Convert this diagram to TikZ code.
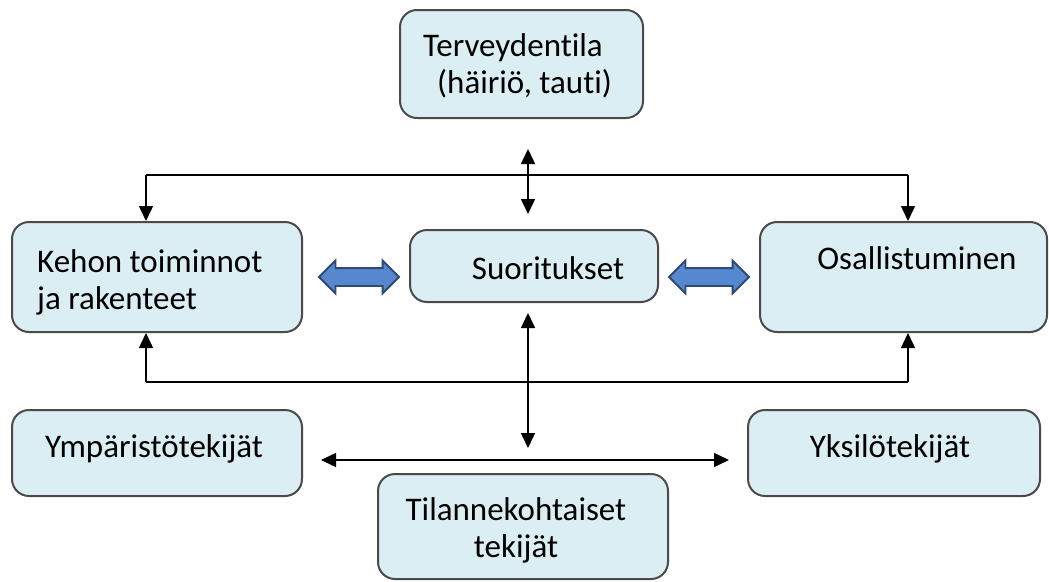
\documentclass[tikz,border=0pt]{standalone}
\usepackage{fontspec}
\setmainfont{Carlito}[Ligatures=NoCommon]
\usetikzlibrary{arrows.meta,shapes.arrows}

\definecolor{boxfill}{HTML}{DBEEF4}
\definecolor{boxline}{HTML}{4A4A4A}
\definecolor{bluearr}{HTML}{5588CF}
\definecolor{bluearrline}{HTML}{2E4A73}

\tikzset{
  icfbox/.style={draw=boxline, fill=boxfill, line width=2pt, rounded corners=17pt, inner sep=0pt},
  icftext/.style={font=\fontsize{33}{37}\selectfont, inner sep=0pt, align=left},
  conn/.style={line width=1.5pt, -{Triangle[length=15pt,width=14pt]}},
  dconn/.style={line width=1.5pt, {Triangle[length=15pt,width=14pt]}-{Triangle[length=15pt,width=14pt]}},
  bigarrow/.style={double arrow, draw=bluearrline, fill=bluearr, line width=1.8pt, inner sep=0pt,
    minimum height=80pt, double arrow head extend=7.5pt}
}

\begin{document}
\begin{tikzpicture}[x=1pt, y=-1pt]
        \useasboundingbox (0,0) rectangle (1049,581);

        % Boxes
        \node[icfbox, minimum width=243pt, minimum height=108pt] (terv) at (521.5,64) {};
        \node[icfbox, minimum width=290pt, minimum height=110pt] (kehon) at (157,277) {};
        \node[icfbox, minimum width=248pt, minimum height=72pt] (suor) at (534,266) {};
        \node[icfbox, minimum width=287pt, minimum height=110pt] (osal) at (903.5,277) {};
        \node[icfbox, minimum width=290pt, minimum height=86pt] (ymp) at (157,453) {};
        \node[icfbox, minimum width=292pt, minimum height=86pt] (yks) at (894,453) {};
        \node[icfbox, minimum width=290pt, minimum height=105pt] (tila) at (523,526.5) {};

        % Texts
        \node[icftext, anchor=west] (tervT) at (423,66) {Terveydentila\\\hspace*{14pt}(häiriö, tauti)};
        \node[icftext, anchor=west] (kehonT) at (37,282) {Kehon toiminnot\\ja rakenteet};
        \node[icftext] (suorT) at (548,268) {Suoritukset};
        \node[icftext] (osalT) at (917,258) {Osallistuminen};
        \node[icftext] (ympT) at (154,449) {Ympäristötekijät};
        \node[icftext] (yksT) at (890,449) {Yksilötekijät};
        \node[icftext, align=center] (tilaT) at (516,530) {Tilannekohtaiset\\tekijät};

        % Blue double arrows
        \node[bigarrow] (leftdbl) at (359,277) {\rule{0pt}{16pt}};
        \node[bigarrow] (rightdbl) at (709,277) {\rule{0pt}{16pt}};

        % Helper coordinates
        \coordinate (axis) at (528,0);
        \coordinate (topL) at (146,175);
        \coordinate (topR) at (908,175);
        \coordinate (botL) at (146,382);
        \coordinate (botR) at (908,382);
        \coordinate (hline) at (0,460);

        % Top connections
        \draw[dconn, shorten <=30pt, shorten >=15pt] (terv.south -| axis) -- (suor.north -| axis);
        \draw[line width=1.5pt] (topL) -- (topR);
        \draw[conn] (topL) -- (topL |- kehon.north);
        \draw[conn] (topR) -- (topR |- osal.north);

        % Bottom connections
        \draw[line width=1.5pt] (botL) -- (botR);
        \draw[conn] (botL) -- (botL |- kehon.south);
        \draw[conn] (botR) -- (botR |- osal.south);
        \draw[dconn, shorten <=10pt, shorten >=12pt] (suor.south -| axis) -- (axis |- hline);
        \draw[dconn, shorten <=18pt, shorten >=18pt] (ymp.east |- hline) -- (yks.west |- hline);
    \end{tikzpicture}
\end{document}
